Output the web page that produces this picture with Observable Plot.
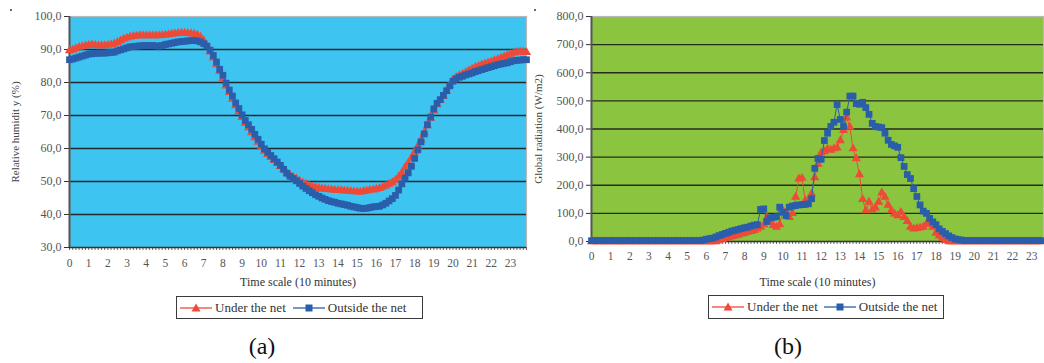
<!DOCTYPE html>
<html>
<head>
<meta charset="utf-8">
<script src="https://cdn.jsdelivr.net/npm/d3@7"></script>
<script src="https://cdn.jsdelivr.net/npm/@observablehq/plot@0.6"></script>
<style>
  html, body { margin: 0; padding: 0; background: #fff; }
  body { width: 1044px; height: 363px; position: relative; overflow: hidden;
         font-family: 'Liberation Serif', 'DejaVu Serif Condensed', 'DejaVu Serif', serif; }
  .panel { position: absolute; top: 0; }
  .legend { position: absolute; box-sizing: border-box; border: 1.6px solid #3a3a3a; background: #fff;
            display: flex; align-items: center; font-size: 13px; font-stretch: condensed; color: #333; white-space: nowrap; }
  .legend .item { display: flex; align-items: center; }
  .legend svg { display: block; }
  .caption { position: absolute; font-size: 24px; color: #111; transform: translate(-50%, -50%); }
  .speck { position: absolute; width: 2px; height: 2px; border-radius: 1px; background: #1d3f7a; }
</style>
</head>
<body>
<div id="a" class="panel" style="left:0px"></div>
<div id="b" class="panel" style="left:522px"></div>
<div class="speck" style="left:10px;top:9px"></div>
<div class="speck" style="left:534px;top:9px"></div>
<script>
// Hourly labels along the time axis (one reading every 10 minutes, 6 per hour)
const hourLabels = [0,1,2,3,4,5,6,7,8,9,10,11,12,13,14,15,16,17,18,19,20,21,22,23];

// (a) Relative humidity (%), 10-minute readings
const rhUnder = [
  89.7,89.9,90.3,90.7,90.9,91.1,91.3,91.4,91.3,91.2,91.2,91.2,91.3,91.5,91.7,92.2,92.7,93.2,93.5,93.8,
  94.0,94.1,94.2,94.2,94.2,94.2,94.2,94.2,94.2,94.3,94.4,94.5,94.7,94.8,94.9,95.0,95.0,94.9,94.8,94.7,
  94.4,93.8,92.7,91.2,89.3,87.5,85.4,83.4,81.2,79.0,77.0,75.0,73.0,71.2,69.4,67.7,66.3,64.8,63.3,61.9,
  60.5,59.2,58.2,57.3,56.4,55.5,54.6,53.6,52.6,51.9,51.3,50.8,50.2,49.6,49.2,48.8,48.4,48.2,48.0,47.8,
  47.7,47.6,47.5,47.4,47.3,47.3,47.2,47.1,47.0,46.9,46.9,46.8,47.0,47.2,47.4,47.5,47.7,47.9,48.3,48.7,
  49.2,49.7,50.4,51.4,52.6,54.2,55.6,57.2,58.9,60.7,62.6,64.8,66.9,69.2,71.4,73.3,74.6,75.9,77.4,79.2,
  80.8,81.6,82.1,82.6,83.1,83.6,84.1,84.6,85.0,85.4,85.7,86.0,86.3,86.7,87.0,87.4,87.8,88.2,88.6,89.0,
  89.2,89.3,89.2,89.1
];
const rhOutside = [
  86.9,87.1,87.4,87.7,88.0,88.3,88.6,88.7,88.8,88.9,88.9,88.9,89.0,89.1,89.2,89.6,89.9,90.2,90.5,90.8,
  90.9,91.0,91.1,91.2,91.2,91.2,91.2,91.1,91.0,91.2,91.5,91.7,91.9,92.1,92.3,92.4,92.5,92.6,92.7,92.7,
  92.6,92.3,91.8,91.0,89.8,88.2,86.2,84.0,82.2,79.8,77.7,75.9,73.8,72.1,70.2,68.5,67.2,65.8,64.3,62.8,
  61.3,59.9,58.9,57.9,56.9,55.9,54.9,53.7,52.5,51.6,50.9,50.2,49.4,48.6,47.9,47.2,46.6,46.0,45.5,45.0,
  44.6,44.2,43.9,43.7,43.4,43.2,43.0,42.8,42.5,42.3,42.1,41.9,41.8,41.9,42.1,42.3,42.4,42.5,42.9,43.4,
  44.1,44.8,45.8,47.4,49.3,51.0,52.6,54.6,57.0,59.6,62.0,64.4,67.2,69.5,72.0,73.7,74.8,76.1,77.5,79.0,
  80.4,81.1,81.6,81.9,82.3,82.6,82.9,83.3,83.6,83.9,84.2,84.5,84.8,85.1,85.4,85.6,85.8,86.0,86.3,86.6,
  86.7,86.8,86.9,86.9
];
const rhTicks = [30,40,50,60,70,80,90,100];

// (b) Global radiation (W/m2), 10-minute readings
const radUnder = [
  0,0,0,0,0,0,0,0,0,0,0,0,0,0,0,0,0,0,0,0,
  0,0,0,0,0,0,0,0,0,0,0,0,0,0,0,0,0,0,0,0,
  3,8,11,14,17,20,23,27,30,33,36,40,45,51,60,86,69,57,51,60,
  110,104,86,100,158,223,225,146,150,170,227,275,315,320,329,325,330,333,359,395,
  440,407,330,295,238,150,110,140,113,120,140,173,158,129,110,98,92,104,86,72,
  51,45,47,49,51,62,62,51,30,20,13,4,0,0,0,0,0,0,0,0,
  0,0,0,0,0,0,0,0,0,0,0,0,0,0,0,0,0,0,0,0,
  0,0
];
const radOutside = [
  3,3,3,3,3,3,3,3,3,3,3,3,3,3,3,3,3,3,3,3,
  3,3,3,3,3,3,3,3,3,3,3,3,3,3,3,5,8,10,12,16,
  21,25,29,33,37,40,43,46,49,51,55,58,60,114,116,71,84,86,88,122,
  104,92,122,126,128,130,131,132,134,152,260,295,292,359,385,409,424,487,434,409,
  460,517,517,490,488,495,476,452,420,409,407,405,385,360,345,340,335,298,267,238,
  224,188,160,130,108,100,82,70,60,45,36,28,20,14,9,7,5,3,3,3,
  3,3,3,3,3,3,3,3,3,3,3,3,3,3,3,3,3,3,3,3,
  3,3
];
const radTicks = [0,100,200,300,400,500,600,700,800];

const seriesNames = ["Under the net", "Outside the net"];
const redColor = "#ee4a38";
const blueColor = "#2a5eab";
const serifFont = "'Liberation Serif', 'DejaVu Serif', serif";

const commaFormat = d => d.toFixed(1).replace(".", ",");

function panel({under, outside, yTicks, yTitle, bg, width, marginLeft, marginRight, marginBottom, xMax, xTitleDy, xPad, yTitleDx, yTitleSpacing}) {
  const rows = under.map((u, i) => ({t: i / 6, under: u, outside: outside[i]}));
  const steps = rows.map(d => d.t);
  const y0 = yTicks[0], y1 = yTicks[yTicks.length - 1];
  return Plot.plot({
    width, height: 290,
    marginTop: 16, marginLeft, marginRight, marginBottom,
    style: {fontFamily: serifFont, fontSize: "12px", background: "transparent", overflow: "visible"},
    x: {domain: [0, xMax]},
    y: {domain: [y0, y1]},
    marks: [
      Plot.frame({fill: bg, stroke: "#b9b9b9", strokeWidth: 1.2}),
      Plot.gridY({ticks: yTicks.slice(1, -1), stroke: "#222", strokeOpacity: 0.95, strokeWidth: 1.4}),
      Plot.axisY({ticks: yTicks, tickSize: 5, tickPadding: 3, tickFormat: commaFormat, fontSize: 12, fill: "#555", stroke: "#333", label: null}),
      Plot.axisX({ticks: steps, tickSize: 3, tickFormat: () => "", stroke: "#444", strokeWidth: 0.8, label: null}),
      Plot.axisX({ticks: hourLabels, tickSize: 0, tickPadding: xPad, tickFormat: d => String(d), fontSize: 11.5, fill: "#555", label: null}),
      Plot.ruleX([0], {stroke: "#555", strokeWidth: 2}),
      Plot.ruleY([y0], {stroke: "#333", strokeWidth: 1.5}),
      Plot.line(rows, {x: "t", y: "under", stroke: redColor, strokeWidth: 1}),
      Plot.dot(rows, {x: "t", y: "under", symbol: "triangle", r: 3.4, fill: redColor}),
      Plot.line(rows, {x: "t", y: "outside", stroke: blueColor, strokeWidth: 1}),
      Plot.dot(rows, {x: "t", y: "outside", symbol: "square", r: 3.8, fill: blueColor}),
      Plot.text(["Time scale (10 minutes)"], {frameAnchor: "bottom", textAnchor: "middle", lineAnchor: "middle", dy: xTitleDy, fontSize: 12, fill: "#333"}),
      Plot.text([yTitle], {frameAnchor: "left", textAnchor: "middle", lineAnchor: "middle", dx: yTitleDx, rotate: -90, fontSize: 11, fill: "#444",
                           letterSpacing: yTitleSpacing})
    ]
  });
}

document.getElementById("a").append(panel({
  under: rhUnder, outside: rhOutside, yTicks: rhTicks, yTitle: "Relative humidit y (%)",
  bg: "#3ec4f1", width: 530, marginLeft: 69, marginRight: 4, marginBottom: 43,
  xMax: 143 / 6, xTitleDy: 35, xPad: 11, yTitleDx: -54, yTitleSpacing: "0.2px"
}));
document.getElementById("b").append(panel({
  under: radUnder, outside: radOutside, yTicks: radTicks, yTitle: "Global radiation (W/m2)",
  bg: "#8bc43f", width: 522, marginLeft: 69, marginRight: 1, marginBottom: 49,
  xMax: 141.7 / 6, xTitleDy: 41, xPad: 10, yTitleDx: -53, yTitleSpacing: "2.3px"
}));

// Legend boxes and panel captions
function swatch(color, symbol) {
  const ns = "http://www.w3.org/2000/svg";
  const s = document.createElementNS(ns, "svg");
  s.setAttribute("width", 32); s.setAttribute("height", 12);
  const l = document.createElementNS(ns, "line");
  l.setAttribute("x1", 0); l.setAttribute("x2", 32); l.setAttribute("y1", 6); l.setAttribute("y2", 6);
  l.setAttribute("stroke", color); l.setAttribute("stroke-width", 1.3);
  s.append(l);
  const p = document.createElementNS(ns, "path");
  p.setAttribute("d", symbol === "triangle" ? "M16,1.5L20.5,9.5L11.5,9.5Z" : "M12.5,2.5h7v7h-7Z");
  p.setAttribute("fill", color);
  s.append(p);
  return s;
}
function legend(left, top, width, height, gap) {
  const box = document.createElement("div");
  box.className = "legend";
  Object.assign(box.style, {left: left + "px", top: top + "px", width: width + "px", height: height + "px", paddingLeft: "3px"});
  seriesNames.forEach((name, i) => {
    const item = document.createElement("div");
    item.className = "item";
    if (i > 0) item.style.marginLeft = gap + "px";
    item.append(swatch(i === 0 ? redColor : blueColor, i === 0 ? "triangle" : "square"));
    const t = document.createElement("span");
    t.textContent = name;
    t.style.marginLeft = "3px";
    item.append(t);
    box.append(item);
  });
  document.body.append(box);
}
legend(176, 296, 247, 23, 7);
legend(708, 295, 236, 24, 6);

function caption(text, x, y) {
  const c = document.createElement("div");
  c.className = "caption";
  c.textContent = text;
  Object.assign(c.style, {left: x + "px", top: y + "px"});
  document.body.append(c);
}
caption("(a)", 262, 346);
caption("(b)", 788, 346);
</script>
</body>
</html>
